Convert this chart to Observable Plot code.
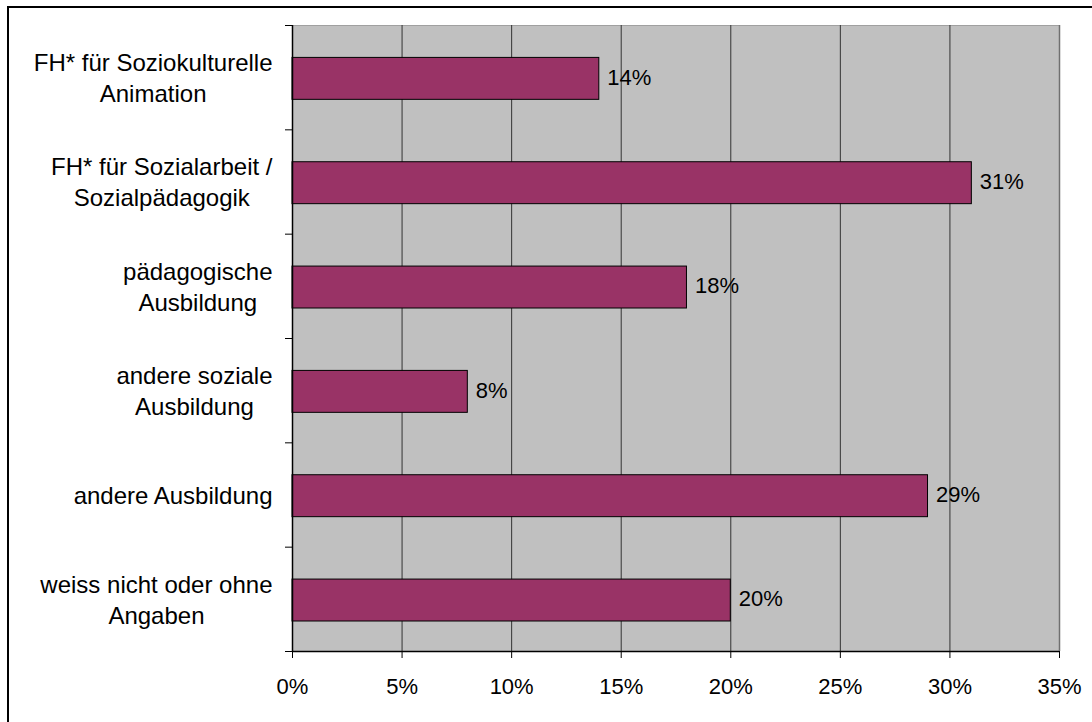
<!DOCTYPE html>
<html>
<head>
<meta charset="utf-8">
<script src="https://cdn.jsdelivr.net/npm/d3@7"></script>
<script src="https://cdn.jsdelivr.net/npm/@observablehq/plot@0.6"></script>
<style>
  html, body { margin: 0; padding: 0; background: #fff; overflow: hidden; }
  #wrap { position: relative; width: 1092px; height: 722px; overflow: hidden; }
  #frame { position: absolute; left: 7px; top: 6px; width: 1200px; height: 800px;
           border-left: 2px solid #000; border-top: 2px solid #000; box-sizing: border-box; }
  #chart { position: absolute; left: 0; top: 0; }
</style>
</head>
<body>
<div id="wrap"><div id="frame"></div><div id="chart"></div></div>
<script>
const categories = [
  "FH* für Soziokulturelle\nAnimation",
  "FH* für Sozialarbeit /\nSozialpädagogik",
  "pädagogische\nAusbildung",
  "andere soziale\nAusbildung",
  "andere Ausbildung",
  "weiss nicht oder ohne\nAngaben"
];
const values = [14, 31, 18, 8, 29, 20];
const xTicks = [0, 5, 10, 15, 20, 25, 30, 35];
const gridTicks = [5, 10, 15, 20, 25, 30];

const data = categories.map((c, i) => ({i, label: c, value: values[i]}));
const bounds = d3.range(categories.length + 1);
const font = "'Liberation Sans', Arial, sans-serif";

const chart = Plot.plot({
  width: 1092,
  height: 722,
  marginLeft: 292,
  marginRight: 33,
  marginTop: 25,
  marginBottom: 71,
  style: {fontFamily: font, fontSize: "22px", color: "#000", background: "transparent"},
  x: {domain: [0, 35], label: null},
  y: {domain: [0, categories.length], reverse: true, label: null},
  marks: [
    Plot.frame({fill: "#C0C0C0", stroke: null}),
    Plot.ruleY([0], {stroke: "#a0a0a0"}),
    Plot.ruleX(gridTicks, {stroke: "#333", strokeWidth: 1}),
    Plot.ruleX([35], {stroke: "#707070", strokeWidth: 1.5}),
    Plot.rect(data, {
      x1: 0, x2: "value",
      y1: "i", y2: d => d.i + 1,
      insetTop: 32.4, insetBottom: 30,
      fill: "#993366", stroke: "#000", strokeWidth: 1
    }),
    Plot.text(data, {
      x: "value", y: d => d.i + 0.5, dy: 0,
      text: d => d.value + "%",
      textAnchor: "start", dx: 8,
      fontSize: 22, fill: "#000"
    }),
    Plot.text(data, {
      x: 0, y: d => d.i + 0.5, dy: -1,
      text: "label",
      textAnchor: "end", dx: -20,
      lineHeight: 1.28,
      fontSize: 24, fill: "#000",
      className: "ylab"
    }),
    Plot.axisX({ticks: xTicks, tickSize: 7, tickPadding: 20, tickFormat: d => d + "%", fontSize: 22, anchor: "bottom", label: null}),
    Plot.axisY({ticks: bounds, tickSize: 7, tickFormat: () => "", anchor: "left", label: null}),
    Plot.ruleX([0], {stroke: "#000", strokeWidth: 1.5}),
    Plot.ruleY([categories.length], {stroke: "#000", strokeWidth: 1.5})
  ]
});
document.getElementById("chart").appendChild(chart);

// center each multi-line label's lines within its right-aligned block
d3.select(chart).selectAll("g.ylab text").each(function() {
  const spans = Array.from(this.querySelectorAll("tspan"));
  if (spans.length < 2) return;
  const widths = spans.map(s => s.getComputedTextLength());
  const W = Math.max(...widths);
  spans.forEach((s, k) => s.setAttribute("x", -(W - widths[k]) / 2));
});
</script>
</body>
</html>
